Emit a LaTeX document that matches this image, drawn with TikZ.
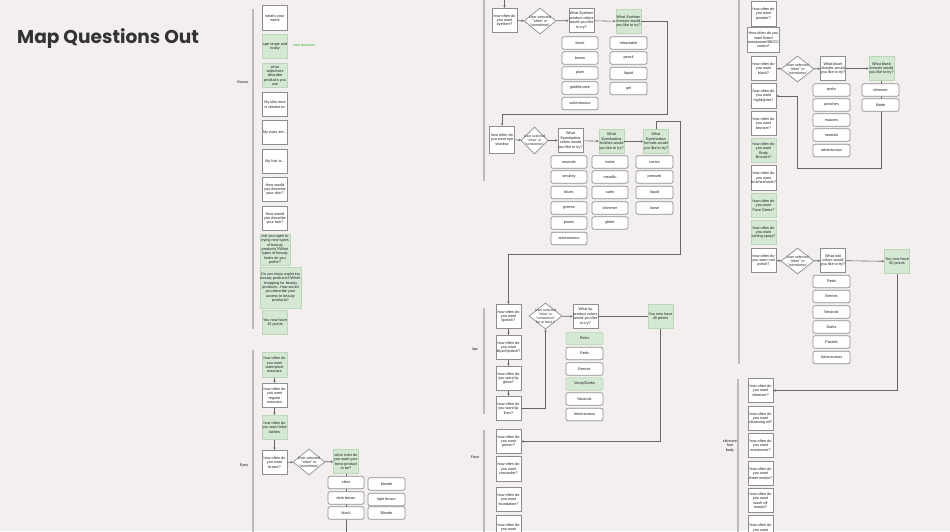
\documentclass[tikz,border=0pt]{standalone}
\usepackage{fontspec}
\setmainfont{Liberation Sans}
\newfontfamily\titlefont{Poppins}
\usetikzlibrary{shapes.geometric,arrows.meta}
\definecolor{bg}{HTML}{F2EFEE}
\definecolor{boxline}{HTML}{8E8E8E}
\definecolor{gfill}{HTML}{D5E8D4}
\definecolor{gline}{HTML}{BCD6B9}
\definecolor{barcol}{HTML}{BDBBBA}
\definecolor{lcol}{HTML}{666666}
\definecolor{txt}{HTML}{222222}
\definecolor{newq}{HTML}{3DB83D}
\definecolor{titlecol}{HTML}{333333}
\tikzset{
 qbox/.style={draw=boxline, line width=0.8pt, fill=white, minimum width=25pt, minimum height=24.5pt, align=center, inner sep=0pt, font=\fontsize{3.8}{4.4}\selectfont, text=txt},
 gbox/.style={qbox, fill=gfill, draw=gline},
 opt/.style={draw=boxline, line width=0.7pt, fill=white, rounded corners=2pt, minimum width=36pt, minimum height=12.5pt, inner sep=0pt, font=\fontsize{3.8}{4.4}\selectfont, text=txt},
 gopt/.style={opt, fill=gfill, draw=gline},
 dia/.style={diamond, draw=boxline, line width=0.7pt, fill=white, minimum width=32pt, minimum height=26pt, inner sep=0pt},
 dtxt/.style={font=\fontsize{3.6}{4.2}\selectfont, align=center, inner sep=0pt, text=txt},
 arr/.style={draw=lcol, line width=0.6pt, -{Stealth[length=2.4pt,width=2.4pt]}},
 ln/.style={draw=lcol, line width=0.6pt},
 secbar/.style={draw=barcol, line width=2.6pt},
 sec/.style={font=\fontsize{3.8}{4.6}\selectfont, align=center, text=txt, inner sep=0pt}
}
\begin{document}
\begin{tikzpicture}[x=1pt,y=-1pt]
\useasboundingbox (0,0) rectangle (950,531);
\fill[bg] (0,0) rectangle (950,531);
\clip (0,0) rectangle (950,531);

% title
\node[anchor=base west, inner sep=0pt, font=\titlefont\bfseries\fontsize{18.6}{22}\selectfont, text=titlecol] (title) at (17,43) {Map Questions Out};

% ===== section bars and labels =====
\draw[secbar] (253,9) -- (253,329);
\node[sec] (lbasics) at (243,82) {Basics};
\draw[secbar] (253,350) -- (253,535);
\node[sec] (leyes) at (244,466) {Eyes};
\draw[secbar] (484,-2) -- (484,181);
\draw[secbar] (484,308) -- (484,414);
\node[sec] (llips) at (475,350) {lips};
\draw[secbar] (484,430) -- (484,535);
\node[sec] (lface) at (475,457) {Face};
\draw[secbar] (739,-2) -- (739,364);
\draw[secbar] (738,379) -- (738,535);
\node[sec] (lskin) at (730,446) {skincare\\hair\\body};

% ===== Basics =====
\node[qbox] (b1) at (275,18) {what's your\\name};
\node[gbox] (b2) at (275,46.5) {age range and\\today};
\node[sec, text=newq, anchor=west] (nq) at (293,46) {new question};
\node[gbox] (b3) at (275,75.5) {what\\adjectives\\describe\\products you\\use};
\node[qbox] (b4) at (275,104.5) {My skin tone\\is closest to:};
\node[qbox] (b5) at (275,132.5) {My eyes are...};
\node[qbox] (b6) at (275,161.5) {My hair is...};
\node[qbox] (b7) at (275,189.5) {How would\\you describe\\your skin?};
\node[qbox] (b8) at (275,218.5) {How would\\you describe\\your hair?};
\node[gbox, minimum width=30pt, minimum height=31pt] (b9) at (275,249.5) {Are you open to\\trying new types\\of beauty\\products?/What\\types of beauty\\looks do you\\prefer?};
\node[gbox, minimum width=41pt, minimum height=41pt] (b10) at (280.5,287.5) {Do you enjoy exploring\\beauty products?/When\\shopping for beauty\\products...How would\\you describe your\\access to beauty\\products?};
\node[gbox] (b11) at (275,322.5) {You now have\\15 points};

% ===== Eyes =====
\node[gbox] (e1) at (274.5,365) {how often do\\you want\\waterproof\\mascara};
\node[qbox] (e2) at (274.5,395.5) {how often do\\you want\\regular\\mascara};
\node[gbox] (e3) at (274.5,427.5) {how often do\\you want false\\lashes};
\node[qbox] (e4) at (274.5,462.5) {how often do\\you want\\brows?};
\node[dia] (ed) at (309,462) {};
\node[dtxt] (edt) at (ed) {User selected\\"often" or\\"sometimes"};
\node[gbox] (e5) at (346,461.5) {what color do\\you want your\\brow product\\to be?};
\coordinate (ebot) at (346,536);
\draw[ln] (e5.south) -- (ebot);
\draw[arr] (e1) -- (e2);
\draw[arr] (e2) -- (e3);
\draw[arr] (e3) -- (e4);
\draw[arr] (e4) -- (ed);
\draw[arr] (ed) -- (e5);
\node[opt] (eo1) at (346,482.5) {clear};
\node[opt] (eo2) at (346,498) {dark brown};
\node[opt] (eo3) at (346,513) {black};
\node[opt, minimum width=37pt] (eo4) at (386.5,484) {blonde};
\node[opt, minimum width=37pt] (eo5) at (386.5,499.5) {light brown};
\node[opt, minimum width=37pt] (eo6) at (386.5,513) {Blonde};

% ===== Eyeliner =====
\node[qbox] (m1) at (504.5,20.5) {how often do\\you want\\eyeliner?};
\coordinate (mtop) at (504.5,-2);
\draw[arr] (mtop) -- (m1.north);
\node[dia] (md1) at (540,21) {};
\node[dtxt] (md1t) at (md1) {User selected\\"often" or\\"sometimes"};
\node[qbox] (m2) at (581.5,20.5) {What Eyeliner\\product colors\\would you like\\to try?};
\node[gbox] (m3) at (628.5,21.5) {What Eyeliner\\formats would\\you like to try?};
\draw[arr] (m1) -- (md1);
\draw[arr] (md1) -- (m2);
\draw[arr] (m2) -- (m3);
\node[opt] (mc1) at (580,43) {black};
\node[opt] (mc2) at (580,58) {brown};
\node[opt] (mc3) at (580,73) {plum};
\node[opt] (mc4) at (580,88) {gold/bronze};
\node[opt] (mc5) at (580,103.5) {adventurous};
\node[opt, minimum width=37pt] (mf1) at (628.5,43) {retractable};
\node[opt, minimum width=37pt] (mf2) at (628.5,58) {pencil};
\node[opt, minimum width=37pt] (mf3) at (628.5,73.5) {liquid};
\node[opt, minimum width=37pt] (mf4) at (628.5,88.5) {gel};

% ===== Eyeshadow =====
\node[qbox, minimum height=27pt] (m4) at (502,139.5) {how often do\\you want eye\\shadow};
\draw[arr] (m3.east) -| (667,114) -| (m4.north);
\node[dia, minimum width=27pt, minimum height=27pt] (md2) at (534.5,140.5) {};
\node[dtxt, font=\fontsize{3.4}{4}\selectfont] (md2t) at (md2) {User selected\\"often" or\\"sometimes"};
\node[qbox] (m5) at (570.5,140.5) {What\\Eyeshadow\\colors would\\you like to try?};
\node[gbox] (m6) at (611.5,141.5) {What\\Eyeshadow\\finishes would\\you like to try?};
\node[gbox] (m7) at (656,141.5) {What\\Eyeshadow\\formats would\\you like to try?};
\draw[arr] (m4) -- (md2);
\draw[arr] (md2) -- (m5);
\draw[arr] (m5) -- (m6);
\draw[arr] (m6) -- (m7);
\node[opt] (sc1) at (569,162) {neutrals};
\node[opt] (sc2) at (569,177) {smokey};
\node[opt] (sc3) at (569,192.5) {blues};
\node[opt] (sc4) at (569,208) {greens};
\node[opt] (sc5) at (569,223) {plums};
\node[opt] (sc6) at (569,238.5) {adventurous};
\node[opt] (sf1) at (610,162) {matte};
\node[opt] (sf2) at (610,177) {metallic};
\node[opt] (sf3) at (610,192.5) {satin};
\node[opt] (sf4) at (610,208) {shimmer};
\node[opt] (sf5) at (610,223) {glitter};
\node[opt, minimum width=37pt] (sm1) at (654.5,162) {cream};
\node[opt, minimum width=37pt] (sm2) at (654.5,177) {pressed};
\node[opt, minimum width=37pt] (sm3) at (654.5,192.5) {liquid};
\node[opt, minimum width=37pt] (sm4) at (654.5,208) {loose};

% ===== Lips =====
\node[qbox] (l1) at (508.5,316.5) {how often do\\you want\\lipstick?};
\draw[arr] (m7.north) -- (656,121) -| (680,254) -| (l1.north);
\node[qbox] (l2) at (508.5,347.5) {how often do\\you want\\liquid lipstick?};
\node[qbox] (l3) at (508.5,378.5) {how often do\\you want lip\\gloss?};
\node[qbox] (l4) at (508.5,408.5) {how often do\\you want lip\\liner?};
\draw[arr] (l1) -- (l2);
\draw[arr] (l2) -- (l3);
\draw[arr] (l3) -- (l4);
\node[dia, minimum width=33pt] (ld) at (545.5,316) {};
\node[dtxt, font=\fontsize{3.4}{4}\selectfont] (ldt) at (ld) {User selected\\"often" or\\"sometimes"\\for at least 2};
\draw[arr] (l4.east) -| (ld.south);
\node[qbox] (l5) at (585.5,316.5) {What lip\\product colors\\would you like\\to try?};
\node[gbox] (l6) at (660.5,316.5) {You now have\\40 points};
\draw[arr] (ld) -- (l5);
\draw[ln] (l5) -- (l6);
\node[gopt, minimum width=37pt] (lo1) at (584.5,338.5) {Pinks};
\node[opt, minimum width=37pt] (lo2) at (584.5,353.5) {Reds};
\node[opt, minimum width=37pt] (lo3) at (584.5,369) {Berries};
\node[gopt, minimum width=37pt] (lo4) at (584.5,384) {Vamp/Darks};
\node[opt, minimum width=37pt] (lo5) at (584.5,399) {Neutrals};
\node[opt, minimum width=37pt] (lo6) at (584.5,414.5) {Adventurous};

% ===== Face =====
\node[qbox] (f1) at (508.5,441.5) {how often do\\you want\\primer?};
\node[qbox] (f2) at (508.5,469) {how often do\\you want\\concealer?};
\node[qbox] (f3) at (508.5,499.5) {how often do\\you want\\foundation?};
\node[qbox] (f4) at (508.5,527.5) {how often do\\you want};
\draw[arr] (l6.south) |- (f1.east);

% ===== Right column =====
\node[qbox] (r1) at (763.5,14) {how often do\\you want\\powder?};
\node[qbox] (r2) at (763.5,40) {How often do you\\want tinted\\moisturizer/BB/CC\\cream?};
\node[qbox] (r3) at (763.5,68.5) {how often do\\you want\\blush?};
\node[qbox] (r4) at (763.5,96) {how often do\\you want\\highlighter?};
\node[qbox] (r5) at (763.5,123.5) {how often do\\you want\\bronzer?};
\node[gbox] (r6) at (763.5,150.5) {how often do\\you want\\Body\\Bronzer?};
\node[qbox] (r7) at (763.5,178) {how often do\\you want\\brushes/tools?};
\node[gbox] (r8) at (763.5,205.5) {how often do\\you want\\Face Gems?};
\node[gbox] (r9) at (763.5,232.5) {how often do\\you want\\setting spray?};
\node[qbox] (r10) at (763.5,260.5) {how often do\\you want nail\\polish?};

\node[dia, minimum width=33pt] (rd1) at (797.5,69) {};
\node[dtxt] (rd1t) at (rd1) {User selected\\"often" or\\"sometimes"};
\node[qbox] (r11) at (833,68.5) {What blush\\shades would\\you like to try?};
\node[gbox] (r12) at (881.5,68.5) {What blush\\formats would\\you like to try?};
\draw[arr] (r3) -- (rd1);
\draw[arr] (rd1) -- (r11);
\draw[arr] (r11) -- (r12);
\draw[arr] (r12.south) -- (881.5,168) -| (797,96) -- (r4.east);
\node[opt, minimum width=37pt] (bo1) at (831.5,90) {pinks};
\node[opt, minimum width=37pt] (bo2) at (831.5,105) {peaches};
\node[opt, minimum width=37pt] (bo3) at (831.5,120) {mauves};
\node[opt, minimum width=37pt] (bo4) at (831.5,135) {neutrals};
\node[opt, minimum width=37pt] (bo5) at (831.5,150.5) {adventurous};
\node[opt, minimum width=37pt] (bf1) at (880.5,90) {shimmer};
\node[opt, minimum width=37pt] (bf2) at (880.5,105) {Matte};

\node[dia, minimum width=33pt] (rd2) at (797.5,261) {};
\node[dtxt] (rd2t) at (rd2) {User selected\\"often" or\\"sometimes"};
\node[qbox] (r13) at (833,260.5) {What nail\\colors would\\you like to try?};
\node[gbox] (r14) at (897,261.5) {You now have\\60 points};
\draw[arr] (r10) -- (rd2);
\draw[arr] (rd2) -- (r13);
\draw[arr] (r13) -- (r14);
\node[opt, minimum width=37pt] (no1) at (831.5,281.5) {Reds};
\node[opt, minimum width=37pt] (no2) at (831.5,296.5) {Berries};
\node[opt, minimum width=37pt] (no3) at (831.5,312) {Neutrals};
\node[opt, minimum width=37pt] (no4) at (831.5,327) {Darks};
\node[opt, minimum width=37pt] (no5) at (831.5,342) {Pastels};
\node[opt, minimum width=37pt] (no6) at (831.5,357.5) {Adventurous};

% ===== Skincare =====
\node[qbox] (s1) at (760.5,390.5) {how often do\\you want\\cleanser?};
\node[qbox] (s2) at (760.5,418.5) {how often do\\you want\\cleansing oil?};
\node[qbox] (s3) at (760.5,445.5) {how often do\\you want\\moisturizer?};
\node[qbox] (s4) at (760.5,473.5) {how often do\\you want\\sheet masks?};
\node[qbox] (s5) at (760.5,500.5) {how often do\\you want\\wash off\\masks?};
\node[qbox] (s6) at (760.5,528) {how often do\\you want};
\draw[arr] (r14.south) |- (s1.east);
\end{tikzpicture}
\end{document}
